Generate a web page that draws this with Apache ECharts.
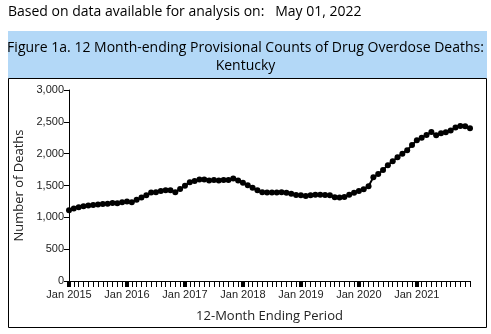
<!DOCTYPE html>
<html>
<head>
<meta charset="utf-8">
<script src="https://cdn.jsdelivr.net/npm/echarts@6/dist/echarts.min.js"></script>
<style>
html,body{margin:0;padding:0;background:#fff;}
#c{width:491px;height:334px;}
</style>
</head>
<body>
<div id="c"></div>
<script>
const subtitleText = 'Based on data available for analysis on:   May 01, 2022';
const titleLines = ['Figure 1a. 12 Month-ending Provisional Counts of Drug Overdose Deaths:', 'Kentucky'];
const yAxisName = 'Number of Deaths';
const xAxisName = '12-Month Ending Period';
const years = [2015, 2016, 2017, 2018, 2019, 2020, 2021];
const monthNames = ['Jan','Feb','Mar','Apr','May','Jun','Jul','Aug','Sep','Oct','Nov','Dec'];
const yTicks = [0, 500, 1000, 1500, 2000, 2500, 3000];
const deaths = [
  1110, 1140, 1160, 1175, 1185, 1195, 1200, 1210, 1215, 1225, 1220, 1235,
  1250, 1235, 1275, 1310, 1345, 1390, 1395, 1415, 1425, 1425, 1395, 1445,
  1495, 1550, 1570, 1595, 1595, 1580, 1585, 1580, 1585, 1585, 1610, 1580,
  1545, 1505, 1465, 1425, 1395, 1390, 1390, 1390, 1395, 1385, 1370, 1350,
  1345, 1335, 1345, 1355, 1355, 1350, 1345, 1315, 1310, 1320, 1355, 1385,
  1415, 1440, 1490, 1630, 1680, 1745, 1820, 1880, 1945, 2000, 2055, 2135,
  2210, 2250, 2295, 2340, 2290, 2320, 2335, 2365, 2410, 2435, 2430, 2400
];

const categories = [];
years.forEach(y => monthNames.forEach(m => categories.push(m + ' ' + y)));

const chart = echarts.init(document.getElementById('c'), null, {renderer: 'canvas'});
const font = '"Open Sans", sans-serif';
const option = {
  animation: false,
  backgroundColor: '#fff',
  graphic: [
    {type: 'rect', shape: {x: 8, y: 31, width: 479, height: 47}, style: {fill: '#b3d8f7'}, z: -10},
    {type: 'rect', shape: {x: 8.5, y: 78.5, width: 478, height: 249}, style: {fill: 'none', stroke: '#000', lineWidth: 1}, z: -10}
  ],
  title: [
    {text: subtitleText, left: 8, top: 5, padding: 0,
     textStyle: {fontFamily: font, fontSize: 14, fontWeight: 'normal', color: '#000'}},
    {text: titleLines.join('\n'), left: 'center', top: 39, padding: 0,
     textStyle: {fontFamily: font, fontSize: 14, fontWeight: 'normal', color: '#000', lineHeight: 18}}
  ],
  grid: {left: 69, top: 90, width: 401, height: 191, containLabel: false},
  xAxis: [
    {
      type: 'category', data: categories, boundaryGap: false,
      axisLine: {lineStyle: {color: '#000', width: 1}},
      axisTick: {show: true, interval: 0, length: 6, lineStyle: {color: '#000', width: 1}},
      axisLabel: {
        interval: (i) => i % 12 === 0, margin: 8,
        fontFamily: 'Liberation Sans, Arial, sans-serif', fontSize: 11, color: '#222'
      },
      name: xAxisName, nameLocation: 'middle', nameGap: 29,
      nameTextStyle: {fontFamily: font, fontSize: 13, color: '#222'}
    },
    {
      type: 'category', data: categories, boundaryGap: false, position: 'bottom',
      axisLine: {show: false},
      axisTick: {show: true, interval: (i) => i % 12 === 0, length: 6, lineStyle: {color: '#000', width: 4}},
      axisLabel: {show: false}
    }
  ],
  yAxis: {
    type: 'value', min: yTicks[0], max: yTicks[yTicks.length - 1], interval: 500,
    axisLine: {show: true, lineStyle: {color: '#000', width: 1}},
    axisTick: {show: true, length: 5, lineStyle: {color: '#000'}},
    splitLine: {show: false},
    axisLabel: {
      margin: 5, fontFamily: 'Liberation Sans, Arial, sans-serif', fontSize: 11, color: '#222',
      formatter: (v) => v.toLocaleString('en-US')
    },
    name: yAxisName, nameLocation: 'middle', nameGap: 41, nameRotate: 90,
    nameTextStyle: {fontFamily: font, fontSize: 13, color: '#222'}
  },
  series: [{
    type: 'line', data: deaths, xAxisIndex: 0,
    symbol: 'circle', symbolSize: 6, showAllSymbol: true,
    lineStyle: {color: '#000', width: 2},
    itemStyle: {color: '#000'}
  }]
};
chart.setOption(option);
</script>
</body>
</html>
